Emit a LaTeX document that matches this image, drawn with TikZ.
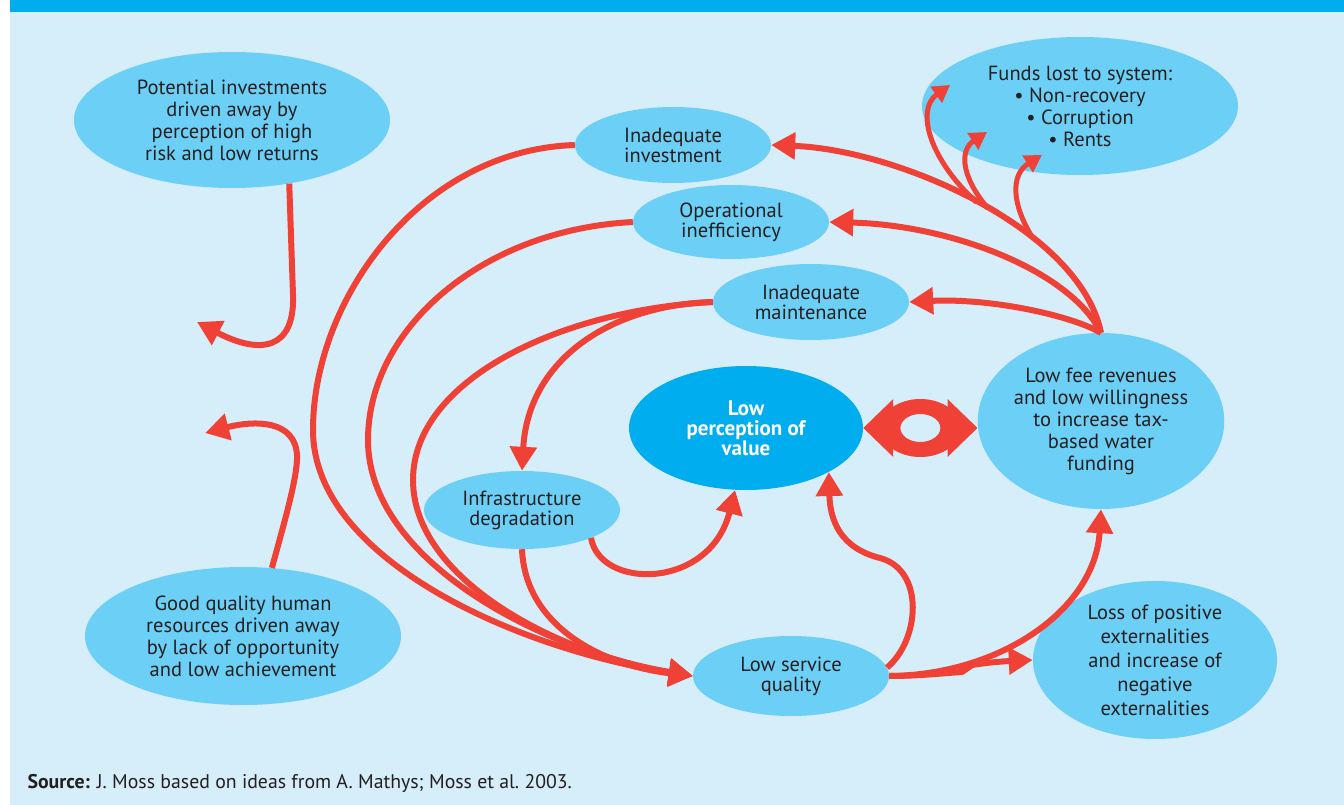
\documentclass[tikz,border=0pt]{standalone}
\usepackage{fontspec}
\setmainfont{PT Sans}
\usepackage{tikz}
\usetikzlibrary{shapes.geometric,arrows.meta,calc}
\usepackage{xcolor}
\definecolor{paleBlue}{RGB}{214,237,250}
\definecolor{bubbleBlue}{RGB}{108,207,246}
\definecolor{deepBlue}{RGB}{0,174,239}
\definecolor{loopRed}{RGB}{239,65,54}
\definecolor{inkGray}{RGB}{35,31,32}

\begin{document}
\begin{tikzpicture}[x=1pt, y=-1pt,
  bubble/.style={ellipse, fill=bubbleBlue, inner sep=0pt, align=center,
                 font=\fontsize{20.5}{22}\selectfont, text=inkGray},
  arr/.style={-{Triangle[length=24pt,width=26pt]}, line width=6pt, loopRed},
  thinarr/.style={-{Triangle[length=17pt,width=19pt]}, line width=5pt, loopRed}
]
  \useasboundingbox (0,0) rectangle (1344,805);
  \fill[white] (0,0) rectangle (1344,805);
  \fill[paleBlue] (10,12) rectangle (1344,805);
  \fill[deepBlue] (10,0) rectangle (1344,12);

  % Bubbles
  \node[bubble, minimum width=316pt, minimum height=136pt] (potinv) at (232,120)
    {Potential investments\\driven away by\\perception of high\\risk and low returns};
  \node[bubble, font=\fontsize{20.5}{20}\selectfont,
        minimum width=196pt, minimum height=76pt] (inadinv) at (673,145)
    {Inadequate\\investment};
  \node[bubble, font=\fontsize{20.5}{20}\selectfont,
        minimum width=196pt, minimum height=74pt] (opineff) at (731,222)
    {Operational\\inefficiency};
  \node[bubble, font=\fontsize{20.5}{20}\selectfont,
        minimum width=196pt, minimum height=76pt] (inadmaint) at (811,302)
    {Inadequate\\maintenance};
  \node[bubble, minimum width=316pt, minimum height=138pt] (funds) at (1080,106)
    {Funds lost to system:\\\textbullet\ Non-recovery\\\textbullet\ Corruption\\\textbullet\ Rents};
  \node[bubble, minimum width=244pt, minimum height=176pt] (lowfee) at (1101,421)
    {Low fee revenues\\and low willingness\\to increase tax-\\based water\\funding};
  \node[bubble, fill=deepBlue, text=white, font=\fontsize{21}{20}\selectfont\bfseries,
        minimum width=234pt, minimum height=124pt] (lowperc) at (746,428)
    {Low\\perception of\\value};
  \node[bubble, font=\fontsize{20.5}{20}\selectfont,
        minimum width=196pt, minimum height=78pt] (infra) at (522,510)
    {Infrastructure\\degradation};
  \node[bubble, font=\fontsize{20.5}{20}\selectfont,
        minimum width=196pt, minimum height=80pt] (lowserv) at (791,676)
    {Low service\\quality};
  \node[bubble, font=\fontsize{20.5}{24}\selectfont,
        minimum width=244pt, minimum height=158pt] (extern) at (1155,660)
    {Loss of positive\\externalities\\and increase of\\negative\\externalities};
  \node[bubble, minimum width=316pt, minimum height=138pt] (humres) at (243,636)
    {Good quality human\\resources driven away\\by lack of opportunity\\and low achievement};

  % Free ends
  \coordinate (lostinv) at (197,322);
  \coordinate (losthr) at (205,433);
  \coordinate (fund1) at (950,85);
  \coordinate (fund2) at (987,132);
  \coordinate (fund3) at (1042,155);

  % Low fee revenues feeding back
  \draw[arr] (lowfee.north) .. controls (1080,230) and (900,150) .. (inadinv.east)
    coordinate[pos=0.5] (br1) coordinate[pos=0.47] (br2) coordinate[pos=0.34] (br3);
  \draw[arr] (lowfee.north) .. controls (1070,270) and (950,225) .. (opineff.east);
  \draw[arr] (lowfee.north) .. controls (1070,315) and (990,298) .. (inadmaint.east);
  \draw[thinarr] (br1) .. controls (930,160) and (915,110) .. (fund1);
  \draw[thinarr] (br2) .. controls (960,175) and (960,150) .. (fund2);
  \draw[thinarr] (br3) .. controls (1012,205) and (1010,175) .. (fund3);

  % Into low service quality
  \draw[arr] (inadinv.west) .. controls (420,150) and (313,300) .. (313,430)
    .. controls (313,560) and (520,650) .. (lowserv.west);
  \draw[arr] (opineff.west) .. controls (480,230) and (368,330) .. (368,440)
    .. controls (368,560) and (540,650) .. (lowserv.west);
  \draw[arr] (inadmaint.west) .. controls (560,310) and (413,380) .. (413,480)
    .. controls (413,580) and (560,655) .. (lowserv.west);
  \draw[arr] (inadmaint.west) .. controls (610,305) and (528,360) .. (infra.north);
  \draw[arr] (infra.south) .. controls (525,625) and (600,665) .. (lowserv.west);

  % Into low perception of value
  \draw[arr] (infra.-22) .. controls (600,590) and (710,590) .. (lowperc.-100);
  \draw[arr] (lowserv.5) .. controls (920,640) and (925,570) .. (880,558)
    .. controls (840,548) and (830,520) .. (lowperc.-28);

  % Out of low service quality
  \draw[arr] (lowserv.east) .. controls (1000,675) and (1095,610) .. (lowfee.south);
  \draw[arr] (lowserv.east) .. controls (920,676) and (945,673) .. (962,672)
    -- (972,665) .. controls (990,662) and (1010,661) .. (extern.west);

  % Side outflows
  \draw[arr] (potinv.-48) -- (293,295) .. controls (295,350) and (260,355) .. (lostinv);
  \draw[arr] (humres.67) .. controls (285,520) and (298,475) .. (297,455)
    .. controls (295,420) and (255,420) .. (losthr);

  % Two-way link with ring
  \coordinate (eye) at ($(lowperc.east)!0.5!(lowperc.east -| lowfee.west)$);
  \draw[line width=20pt, loopRed, {Triangle[length=30pt,width=56pt]}-]
    (lowperc.east) -- ([xshift=-22pt]eye);
  \draw[line width=20pt, loopRed, -{Triangle[length=30pt,width=56pt]}]
    ([xshift=22pt]eye) -- (lowperc.east -| lowfee.west);
  \fill[loopRed, even odd rule] (eye) ellipse [x radius=40, y radius=29]
    (eye) ellipse [x radius=20, y radius=14];

  \node[anchor=west, font=\fontsize{19.8}{22}\selectfont, text=inkGray] (src) at (24,783)
    {\textbf{Source:} J. Moss based on ideas from A. Mathys; Moss et al.\ 2003.};
\end{tikzpicture}
\end{document}
